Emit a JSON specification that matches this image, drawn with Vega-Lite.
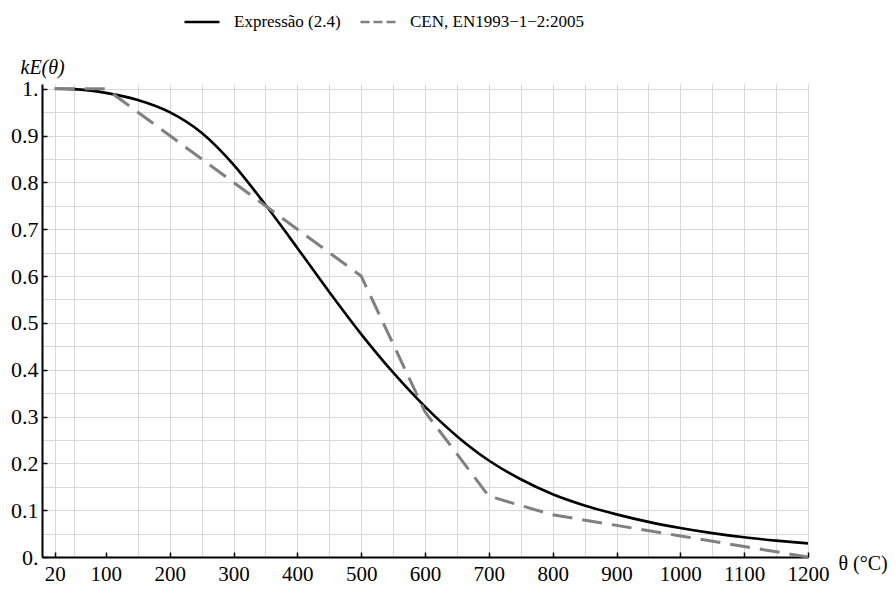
{
  "$schema": "https://vega.github.io/schema/vega-lite/v6.json",
  "width": 766,
  "height": 473,
  "autosize": {"type": "none"},
  "padding": {"left": 42, "top": 84, "right": 87, "bottom": 32},
  "background": "white",
  "config": {
    "view": {"stroke": null},
    "font": "Liberation Serif"
  },
  "data": {
    "values": [
      {"theta": 20, "k": 1.0, "series": "Expressão (2.4)"},
      {"theta": 50, "k": 0.999, "series": "Expressão (2.4)"},
      {"theta": 100, "k": 0.991, "series": "Expressão (2.4)"},
      {"theta": 150, "k": 0.976, "series": "Expressão (2.4)"},
      {"theta": 200, "k": 0.95, "series": "Expressão (2.4)"},
      {"theta": 250, "k": 0.906, "series": "Expressão (2.4)"},
      {"theta": 300, "k": 0.838, "series": "Expressão (2.4)"},
      {"theta": 350, "k": 0.752, "series": "Expressão (2.4)"},
      {"theta": 400, "k": 0.66, "series": "Expressão (2.4)"},
      {"theta": 450, "k": 0.566, "series": "Expressão (2.4)"},
      {"theta": 500, "k": 0.476, "series": "Expressão (2.4)"},
      {"theta": 550, "k": 0.394, "series": "Expressão (2.4)"},
      {"theta": 600, "k": 0.321, "series": "Expressão (2.4)"},
      {"theta": 650, "k": 0.258, "series": "Expressão (2.4)"},
      {"theta": 700, "k": 0.206, "series": "Expressão (2.4)"},
      {"theta": 750, "k": 0.166, "series": "Expressão (2.4)"},
      {"theta": 800, "k": 0.134, "series": "Expressão (2.4)"},
      {"theta": 850, "k": 0.11, "series": "Expressão (2.4)"},
      {"theta": 900, "k": 0.091, "series": "Expressão (2.4)"},
      {"theta": 950, "k": 0.075, "series": "Expressão (2.4)"},
      {"theta": 1000, "k": 0.062, "series": "Expressão (2.4)"},
      {"theta": 1050, "k": 0.051, "series": "Expressão (2.4)"},
      {"theta": 1100, "k": 0.042, "series": "Expressão (2.4)"},
      {"theta": 1150, "k": 0.035, "series": "Expressão (2.4)"},
      {"theta": 1200, "k": 0.029, "series": "Expressão (2.4)"},
      {"theta": 20, "k": 1.0, "series": "CEN, EN1993−1−2:2005"},
      {"theta": 100, "k": 1.0, "series": "CEN, EN1993−1−2:2005"},
      {"theta": 200, "k": 0.9, "series": "CEN, EN1993−1−2:2005"},
      {"theta": 300, "k": 0.8, "series": "CEN, EN1993−1−2:2005"},
      {"theta": 400, "k": 0.7, "series": "CEN, EN1993−1−2:2005"},
      {"theta": 500, "k": 0.6, "series": "CEN, EN1993−1−2:2005"},
      {"theta": 600, "k": 0.31, "series": "CEN, EN1993−1−2:2005"},
      {"theta": 700, "k": 0.13, "series": "CEN, EN1993−1−2:2005"},
      {"theta": 800, "k": 0.09, "series": "CEN, EN1993−1−2:2005"},
      {"theta": 900, "k": 0.0675, "series": "CEN, EN1993−1−2:2005"},
      {"theta": 1000, "k": 0.045, "series": "CEN, EN1993−1−2:2005"},
      {"theta": 1100, "k": 0.0225, "series": "CEN, EN1993−1−2:2005"},
      {"theta": 1200, "k": 0.0, "series": "CEN, EN1993−1−2:2005"}
    ]
  },
  "encoding": {
    "x": {
      "field": "theta",
      "type": "quantitative",
      "scale": {"domain": [0, 1200], "nice": false, "zero": false},
      "axis": {
        "values": [20, 50, 100, 150, 200, 250, 300, 350, 400, 450, 500, 550, 600, 650, 700, 750, 800, 850, 900, 950, 1000, 1050, 1100, 1150, 1200],
        "labelExpr": "(datum.value == 20 || datum.value % 100 == 0) ? format(datum.value, 'd') : ''",
        "labelOverlap": false,
        "labelFlush": false,
        "labelFont": "Liberation Serif",
        "labelFontSize": 21,
        "labelColor": "black",
        "labelPadding": 11,
        "labelBaseline": "top",
        "domainColor": "black",
        "domainWidth": 2,
        "tickColor": "black",
        "tickWidth": 1.5,
        "tickSize": -5,
        "tickOpacity": {"condition": {"test": "datum.value == 20 || datum.value % 100 == 0", "value": 1}, "value": 0},
        "grid": true,
        "gridColor": "#d9d9d9",
        "gridWidth": 1,
        "gridOpacity": {"condition": {"test": "datum.value == 100", "value": 0}, "value": 1},
        "title": "θ (°C)",
        "titleFont": "Liberation Serif",
        "titleFontSize": 20,
        "titleFontWeight": "normal",
        "titleColor": "black",
        "titleAngle": 0,
        "titleAlign": "left",
        "titleBaseline": "middle",
        "titleX": 796,
        "titleY": 6
      }
    },
    "y": {
      "field": "k",
      "type": "quantitative",
      "scale": {"domain": [0, 1.01], "nice": false},
      "axis": {
        "values": [0, 0.05, 0.1, 0.15, 0.2, 0.25, 0.3, 0.35, 0.4, 0.45, 0.5, 0.55, 0.6, 0.65, 0.7, 0.75, 0.8, 0.85, 0.9, 0.95, 1.0],
        "labelExpr": "abs(datum.value * 10 - round(datum.value * 10)) < 0.001 ? (datum.value == 0 ? '0.' : (datum.value > 0.999 ? '1.' : format(datum.value, '.1f'))) : ''",
        "labelOverlap": false,
        "labelFlush": false,
        "labelFont": "Liberation Serif",
        "labelFontSize": 22,
        "labelColor": "black",
        "labelPadding": 9,
        "domainColor": "black",
        "domainWidth": 2,
        "tickColor": "black",
        "tickWidth": 1.5,
        "tickSize": -5,
        "tickOpacity": {"condition": {"test": "abs(datum.value * 10 - round(datum.value * 10)) < 0.001", "value": 1}, "value": 0},
        "grid": true,
        "gridColor": "#d9d9d9",
        "gridWidth": 1,
        "title": "kE(θ)",
        "titleFont": "Liberation Serif",
        "titleFontSize": 20,
        "titleFontWeight": "normal",
        "titleFontStyle": "italic",
        "titleColor": "black",
        "titleAngle": 0,
        "titleAlign": "left",
        "titleBaseline": "middle",
        "titleX": -22,
        "titleY": -17
      }
    },
    "color": {
      "field": "series",
      "type": "nominal",
      "scale": {"domain": ["Expressão (2.4)", "CEN, EN1993−1−2:2005"], "range": ["#000000", "#808080"]},
      "legend": {
        "title": null,
        "orient": "none",
        "legendX": 141,
        "legendY": -81,
        "direction": "horizontal",
        "symbolType": "stroke",
        "symbolSize": 1225,
        "symbolStrokeWidth": 2.6,
        "labelFont": "Liberation Serif",
        "labelFontSize": 17,
        "labelColor": "black",
        "labelOffset": 13,
        "columnPadding": 14,
        "padding": 0,
        "labelLimit": 300,
        "encode": {
          "symbols": {
            "update": {
              "strokeDash": {"signal": "datum.value == 'Expressão (2.4)' ? [1, 0] : [9, 4]"}
            }
          }
        }
      }
    }
  },
  "layer": [
    {
      "transform": [{"filter": "datum.series == 'Expressão (2.4)'"}],
      "mark": {"type": "line", "interpolate": "monotone", "strokeWidth": 2.6}
    },
    {
      "transform": [{"filter": "datum.series != 'Expressão (2.4)'"}],
      "mark": {"type": "line", "strokeWidth": 3, "strokeDash": [20, 10]}
    }
  ]
}
